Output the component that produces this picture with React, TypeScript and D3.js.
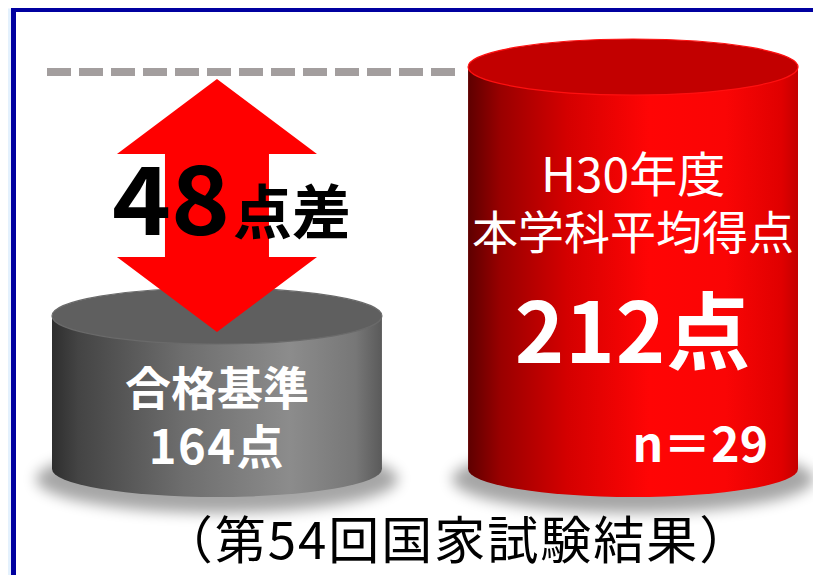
import React from "react";
import * as d3 from "d3";

const categories = ["合格基準", "H30年度本学科平均得点"];
const values = [164, 212];
const valueLabels = ["164点", "212点"];
const diffLabel = ["48", "点差"];
const sampleLabel = "n＝29";
const captionText = "（第54回国家試験結果）";

const W = 821;
const H = 583;
const FONT = "'Noto Sans CJK JP', 'Noto Sans', sans-serif";
const BASE = 469;

export default function App() {
  const x = d3.scaleBand<string>().domain(categories).range([52, 798]).paddingInner(0.207).paddingOuter(0);
  const y = d3.scaleLinear().domain([164, 212]).range([316, 67]);
  const bw = x.bandwidth();
  const rx = bw / 2;
  const ry = 28;

  const gx = x(categories[0])! + rx;
  const rcx = x(categories[1])! + rx;

  const yTop = y(values[1]);
  const yLow = y(values[0]);
  // arrow
  const ax = gx;
  const tipT = yTop + 12;
  const tipB = yLow + 16;
  const headH = 75;
  const headW = 100;
  const shaftW = 52;
  const arrowPts = [
    [ax, tipT],
    [ax + headW, tipT + headH],
    [ax + shaftW, tipT + headH],
    [ax + shaftW, tipB - headH],
    [ax + headW, tipB - headH],
    [ax, tipB],
    [ax - headW, tipB - headH],
    [ax - shaftW, tipB - headH],
    [ax - shaftW, tipT + headH],
    [ax - headW, tipT + headH],
  ];
  const arrowPath = d3.line()(arrowPts as [number, number][]) + "Z";

  const cyl = (i: number, grad: string, topFill: string, rim: string) => {
    const cx = x(categories[i])! + rx;
    const top = y(values[i]);
    const left = cx - rx;
    return (
      <g key={i}>
        <ellipse cx={cx} cy={BASE + 10} rx={rx + 16} ry={ry + 6} fill="#000" opacity={0.35} filter="url(#blur)" />
        <rect x={left} y={top} width={bw} height={BASE - top} fill={`url(#${grad})`} />
        <ellipse cx={cx} cy={BASE} rx={rx} ry={ry} fill={`url(#${grad})`} />
        <ellipse cx={cx} cy={top} rx={rx} ry={ry} fill={topFill} stroke={rim} strokeWidth={1.2} />
      </g>
    );
  };

  return (
    <div style={{ margin: -8, width: W, height: H, overflow: "hidden" }}>
      <svg width={W} height={H} style={{ display: "block" }}>
        <defs>
          <linearGradient id="gGray" x1="0" x2="1" y1="0" y2="0">
            <stop offset="0" stopColor="#2e2e2e" />
            <stop offset="0.08" stopColor="#444" />
            <stop offset="0.4" stopColor="#6e6e6e" />
            <stop offset="0.72" stopColor="#8c8c8c" />
            <stop offset="0.92" stopColor="#777" />
            <stop offset="1" stopColor="#5a5a5a" />
          </linearGradient>
          <linearGradient id="gRed" x1="0" x2="1" y1="0" y2="0">
            <stop offset="0" stopColor="#5e0000" />
            <stop offset="0.1" stopColor="#9a0000" />
            <stop offset="0.3" stopColor="#d40000" />
            <stop offset="0.55" stopColor="#ff0505" />
            <stop offset="0.78" stopColor="#fa0505" />
            <stop offset="0.95" stopColor="#e00000" />
            <stop offset="1" stopColor="#c40000" />
          </linearGradient>
          <filter id="blur" x="-20%" y="-50%" width="140%" height="200%">
            <feGaussianBlur stdDeviation="7" />
          </filter>
        </defs>
        <rect x={0} y={0} width={W} height={H} fill="#e4f1fd" />
        <rect x={0} y={0} width={W} height={9} fill="#f0f7ff" />
        <rect x={13.5} y={9.5} width={W + 20} height={571} fill="#fff" stroke="#0000a0" strokeWidth={5} />
        <line x1={16} x2={W} y1={582} y2={582} stroke="#a8a8e8" strokeWidth={1.5} />

        {cyl(0, "gGray", "#5f5f5f", "#6a6a6a")}
        {cyl(1, "gRed", "#c20000", "#ff1010")}

        <line x1={47} x2={455} y1={yTop + 5} y2={yTop + 5} stroke="#a39e9e" strokeWidth={8} strokeDasharray="24 8" />

        <path d={arrowPath} fill="#ff0000" />

        <text x={112} y={235} fontFamily={FONT} fontWeight={700} fill="#000" fontSize={95} textLength={118} lengthAdjust="spacingAndGlyphs">{diffLabel[0]}</text>
        <text x={233} y={234} fontFamily={FONT} fontWeight={700} fill="#000" fontSize={59}>{diffLabel[1]}</text>

        <g fill="#fff" fontFamily={FONT} fontWeight={700} textAnchor="middle">
          <text x={gx} y={405} fontSize={46}>{categories[0]}</text>
          <text x={gx} y={464} fontSize={47} letterSpacing={1.5}>{valueLabels[0]}</text>
        </g>

        <g fill="#fff" fontFamily={FONT} textAnchor="middle">
          <text x={rcx} y={192} fontSize={48} fontWeight={400}>H30年度</text>
          <text x={rcx} y={249} fontSize={46} fontWeight={400}>本学科平均得点</text>
          <text x={rcx} y={363} fontSize={84} fontWeight={700} letterSpacing={1}>{valueLabels[1]}</text>
          <text x={768} y={462} fontSize={48} fontWeight={700} textAnchor="end">{sampleLabel}</text>
        </g>

        <text x={457} y={559} fontFamily={FONT} fontSize={51} letterSpacing={2} textAnchor="middle" fill="#000">{captionText}</text>
      </svg>
    </div>
  );
}
